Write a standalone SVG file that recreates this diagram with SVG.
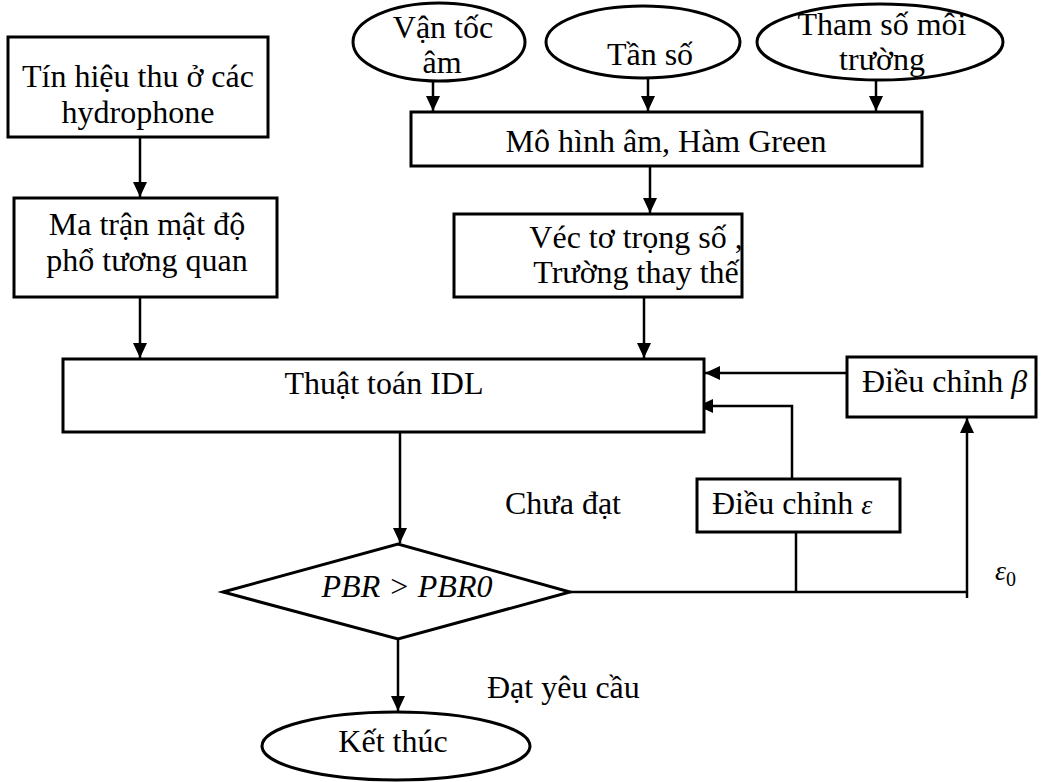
<svg xmlns="http://www.w3.org/2000/svg" width="1041" height="782" viewBox="0 0 1041 782">
<style>
.box{fill:#fff;stroke:#000;stroke-width:3}
.ln{fill:none;stroke:#000;stroke-width:2.5}
text{font-family:"Liberation Serif","Times New Roman",serif;font-size:32px;fill:#000}
.c{text-anchor:middle}
.i{font-style:italic}
</style>
<defs>
<marker id="ah" markerUnits="userSpaceOnUse" markerWidth="16" markerHeight="14" refX="15" refY="7" orient="auto">
<path d="M0,0 L15,7 L0,14 z" fill="#000"/>
</marker>
</defs>
<rect width="1041" height="782" fill="#fff"/>
<g id="connectors">
<line class="ln" x1="140" y1="137" x2="140" y2="197" marker-end="url(#ah)"/>
<line class="ln" x1="140" y1="297" x2="140" y2="358" marker-end="url(#ah)"/>
<line class="ln" x1="433" y1="81" x2="433" y2="111" marker-end="url(#ah)"/>
<line class="ln" x1="648" y1="78" x2="648" y2="111" marker-end="url(#ah)"/>
<line class="ln" x1="876" y1="80" x2="876" y2="111" marker-end="url(#ah)"/>
<line class="ln" x1="650" y1="166" x2="650" y2="213" marker-end="url(#ah)"/>
<line class="ln" x1="644" y1="297" x2="644" y2="358" marker-end="url(#ah)"/>
<line class="ln" x1="847" y1="373" x2="705" y2="373" marker-end="url(#ah)"/>
<polyline class="ln" points="792,479 792,406 698,406" marker-end="url(#ah)"/>
<line class="ln" x1="400" y1="432" x2="400" y2="543" marker-end="url(#ah)"/>
<polyline class="ln" points="570,592 967,592"/>
<line class="ln" x1="796" y1="532" x2="796" y2="592"/>
<line class="ln" x1="967" y1="598" x2="967" y2="418" marker-end="url(#ah)"/>
<line class="ln" x1="398" y1="639" x2="398" y2="711" marker-end="url(#ah)"/>
</g>
<g id="n-tinhieu">
<rect class="box" x="8" y="37" width="260" height="100"/>
<text class="c" x="138" y="87">Tín hiệu thu ở các</text>
<text class="c" x="138" y="123">hydrophone</text>
</g>
<g id="n-matran">
<rect class="box" x="14" y="198" width="263" height="99"/>
<text class="c" x="147" y="235">Ma trận mật độ</text>
<text class="c" x="147" y="271">phổ tương quan</text>
</g>
<g id="n-vantoc">
<ellipse class="box" cx="439" cy="42" rx="86" ry="39"/>
<text class="c" x="443" y="38">Vận tốc</text>
<text class="c" x="442" y="73">âm</text>
</g>
<g id="n-tanso">
<ellipse class="box" cx="643" cy="42" rx="97" ry="36"/>
<text class="c" x="650" y="65">Tần số</text>
</g>
<g id="n-thamso">
<ellipse class="box" cx="880" cy="42" rx="123" ry="38"/>
<text class="c" x="882" y="35">Tham số môi</text>
<text class="c" x="882" y="70">trường</text>
</g>
<g id="n-mohinh">
<rect class="box" x="411" y="112" width="511" height="54"/>
<text class="c" x="666" y="152">Mô hình âm, Hàm Green</text>
</g>
<g id="n-vecto">
<rect class="box" x="454" y="214" width="288" height="83"/>
<text class="c" x="636" y="248">Véc tơ trọng số ,</text>
<text class="c" x="636" y="283">Trường thay thế</text>
</g>
<g id="n-idl">
<rect class="box" x="63" y="359" width="641" height="73"/>
<text class="c" x="384" y="394">Thuật toán IDL</text>
</g>
<g id="n-beta">
<rect class="box" x="847" y="357" width="189" height="60"/>
<text x="862" y="392">Điều chỉnh <tspan class="i">β</tspan></text>
</g>
<g id="n-eps">
<rect class="box" x="697" y="479" width="203" height="53"/>
<text x="712" y="514">Điều chỉnh <tspan class="i" font-size="28">ε</tspan></text>
</g>
<g id="n-pbr">
<polygon class="box" points="223,592 398,544 570,592 398,639"/>
<text class="c i" x="407" y="597">PBR &gt; PBR0</text>
</g>
<g id="n-ketthuc">
<ellipse class="box" cx="396" cy="746" rx="134" ry="34"/>
<text class="c" x="393" y="752">Kết thúc</text>
</g>
<g id="labels">
<text x="505" y="514">Chưa đạt</text>
<text x="487" y="698">Đạt yêu cầu</text>
<text x="995" y="580"><tspan class="i" font-size="28">ε</tspan><tspan font-size="20" dy="6">0</tspan></text>
</g>
</svg>
